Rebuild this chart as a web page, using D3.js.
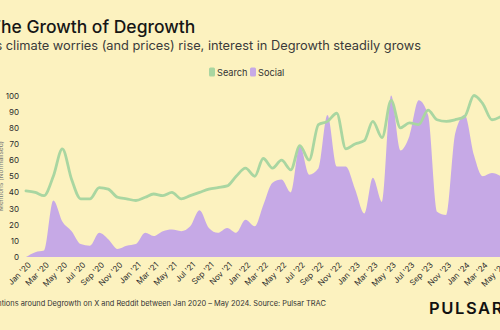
<!DOCTYPE html>
<html lang="en">
<head>
  <meta charset="UTF-8">
  <title>The Growth of Degrowth</title>
  <script src="https://d3js.org/d3.v7.min.js"></script>
  <style>
    body {
      margin: 0;
      background: #fcf2bf;
    }

    svg {
      display: block;
      width: 500px;
      height: 330px;
      font-family: Inter, "Noto Sans", sans-serif;
    }
  </style>
</head>
<body>
  <svg></svg>

  <script>
    // monthly mentions, Jan 2020 - May 2024 (normalised, 100 = peak)
    const months = d3.timeMonth.range(new Date(2020, 0, 1), new Date(2024, 5, 1));

    const search = [
      41, 40, 38, 50, 67, 48, 36, 36, 43, 42,
      37, 36, 35, 37, 39, 38, 40, 36, 38, 40,
      42, 43, 44, 50, 55, 50, 61, 55, 60, 54,
      69, 60, 82, 84, 89, 67, 70, 72, 84, 74,
      97, 80, 83, 82, 91, 85, 84, 85, 87, 100,
      95, 85, 87
    ];

    const social = [
      0, 3, 4, 35, 22, 16, 8, 7, 15, 11,
      5, 7, 8, 15, 13, 16, 17, 16, 19, 29,
      18, 15, 18, 15, 23, 19, 32, 46, 48, 40,
      69, 51, 55, 88, 56, 56, 42, 27, 49, 34,
      100, 66, 75, 97, 88, 28, 26, 77, 88, 63,
      50, 52, 50
    ];

    const yTicks = [0, 10, 20, 30, 40, 50, 60, 70, 80, 90, 100];

    const data = months.map((d, i) => ({date: d, search: search[i], social: social[i]}));

    const width = 500;
    const height = 330;
    const margin = {top: 95, bottom: 73, left: 26, right: -1};

    const colors = {search: `#a9d6a1`, social: `#c6a9e6`};

    const svg = d3.select(`svg`)
      .attr(`viewBox`, `0 0 ${width} ${height}`);

    const xScale = d3.scaleTime()
      .domain(d3.extent(months))
      .range([margin.left, width - margin.right]);

    const yScale = d3.scaleLinear()
      .domain([0, 100])
      .range([height - margin.bottom, margin.top + 0.5]);

    // social mentions as a filled area
    const area = d3.area()
      .curve(d3.curveMonotoneX)
      .x(d => xScale(d.date))
      .y0(yScale(0))
      .y1(d => yScale(d.social));

    svg.append(`path`)
      .datum(data)
      .attr(`d`, area)
      .attr(`fill`, colors.social);

    // search interest as a line
    const line = d3.line()
      .curve(d3.curveMonotoneX)
      .x(d => xScale(d.date))
      .y(d => yScale(d.search));

    svg.append(`path`)
      .datum(data)
      .attr(`d`, line)
      .attr(`fill`, `none`)
      .attr(`stroke`, colors.search)
      .attr(`stroke-width`, 2.8)
      .attr(`stroke-linecap`, `round`);

    // axes
    const yAxis = d3.axisLeft(yScale)
      .tickValues(yTicks)
      .tickSize(0)
      .tickPadding(0);

    const yG = svg.append(`g`)
      .attr(`transform`, `translate(19, 0)`)
      .call(yAxis);
    yG.select(`.domain`).remove();
    yG.selectAll(`text`)
      .attr(`fill`, `#2b2b2b`)
      .style(`font-size`, `8px`)
      .style(`font-family`, `Inter, sans-serif`);

    const tickMonths = months.filter((d, i) => i % 2 === 0);
    const xAxis = d3.axisBottom(xScale)
      .tickValues(tickMonths)
      .tickFormat(d3.timeFormat(`%b '%y`))
      .tickSize(0)
      .tickPadding(0);

    const xG = svg.append(`g`)
      .attr(`transform`, `translate(0, ${height - margin.bottom})`)
      .call(xAxis);
    xG.select(`.domain`).remove();
    xG.selectAll(`text`)
      .attr(`fill`, `#2b2b2b`)
      .style(`font-size`, `8px`)
      .style(`font-family`, `Inter, sans-serif`)
      .attr(`text-anchor`, `end`)
      .attr(`dy`, null)
      .attr(`y`, 0)
      .attr(`transform`, `translate(5, 8.5) rotate(-45)`);

    // y axis title, mostly off the left edge
    svg.append(`text`)
      .attr(`transform`, `translate(3, 176) rotate(-90)`)
      .attr(`text-anchor`, `middle`)
      .attr(`fill`, `#777`)
      .style(`font-size`, `6.5px`)
      .text(`Mentions (Normalised)`);

    // titles
    svg.append(`text`)
      .attr(`x`, -10.5)
      .attr(`y`, 33)
      .attr(`fill`, `#161616`)
      .style(`font-size`, `17.5px`)
      .style(`font-weight`, 500)
      .text(`The Growth of Degrowth`);

    svg.append(`text`)
      .attr(`x`, -13.4)
      .attr(`y`, 49.5)
      .attr(`fill`, `#3a3a3a`)
      .style(`font-size`, `12.8px`)
      .text(`As climate worries (and prices) rise, interest in Degrowth steadily grows`);

    // legend
    const legend = svg.append(`g`)
      .attr(`transform`, `translate(209, 72)`);

    [[`Search`, colors.search, 0], [`Social`, colors.social, 41]].forEach(([name, color, dx]) => {
      legend.append(`rect`)
        .attr(`x`, dx)
        .attr(`y`, -4.5)
        .attr(`width`, 6)
        .attr(`height`, 9)
        .attr(`rx`, 1.5)
        .attr(`fill`, color);
      legend.append(`text`)
        .attr(`x`, dx + 8)
        .attr(`y`, 3.5)
        .attr(`fill`, `#333`)
        .style(`font-size`, `9.2px`)
        .text(name);
    });

    // footer
    svg.append(`text`)
      .attr(`x`, -13.7)
      .attr(`y`, 306)
      .attr(`fill`, `#333`)
      .style(`font-size`, `7.4px`)
      .text(`Mentions around Degrowth on X and Reddit between Jan 2020 – May 2024. Source: Pulsar TRAC`);

    svg.append(`text`)
      .attr(`x`, 429)
      .attr(`y`, 314)
      .attr(`fill`, `#111`)
      .style(`font-size`, `16.5px`)
      .style(`font-weight`, 600)
      .style(`letter-spacing`, `1.6px`)
      .text(`PULSAR`);
  </script>
</body>
</html>
